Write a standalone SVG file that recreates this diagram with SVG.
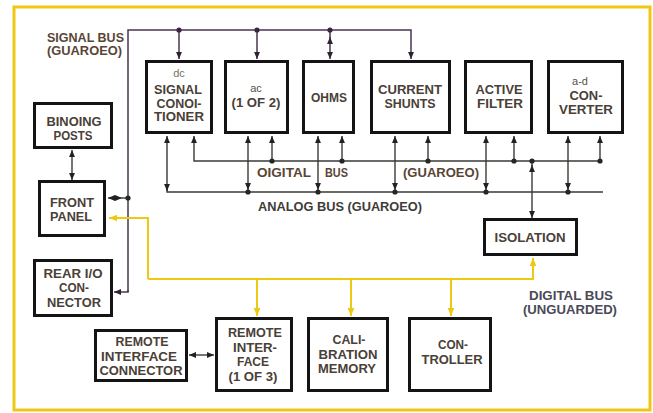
<svg xmlns="http://www.w3.org/2000/svg" width="653" height="413" viewBox="0 0 653 413">
<style>
.bx{fill:#fff;stroke:#141414;stroke-width:3}
.t{font-family:"Liberation Sans",Arial,sans-serif;font-weight:bold;font-size:12px;fill:#4a4037;text-anchor:middle}
.s{font-family:"Liberation Sans",Arial,sans-serif;font-size:11px;fill:#77725e;text-anchor:middle}
.lb{font-family:"Liberation Sans",Arial,sans-serif;font-weight:bold;font-size:12px;fill:#5a4535}
.sig{fill:none;stroke:#4a3450;stroke-width:1.5}
.dk{fill:none;stroke:#3a3a34;stroke-width:1.4}
.yl{fill:none;stroke:#efc814;stroke-width:2}
.dotp{fill:#3a2440}
.dotd{fill:#262622}
</style>
<defs>
<marker id="ad" viewBox="0 0 10 10" refX="10" refY="5" markerWidth="7" markerHeight="7" markerUnits="userSpaceOnUse" orient="auto-start-reverse"><path d="M0,0.8 L10,5 L0,9.2 z" fill="#222"/></marker>
<marker id="ap" viewBox="0 0 10 10" refX="10" refY="5" markerWidth="7" markerHeight="7" markerUnits="userSpaceOnUse" orient="auto-start-reverse"><path d="M0,0.8 L10,5 L0,9.2 z" fill="#2e2230"/></marker>
<marker id="ay" viewBox="0 0 10 10" refX="10" refY="5" markerWidth="8" markerHeight="8" markerUnits="userSpaceOnUse" orient="auto-start-reverse"><path d="M0,0.8 L10,5 L0,9.2 z" fill="#efc814"/></marker>
</defs>
<rect x="0" y="0" width="653" height="413" fill="#fff"/>
<rect x="14" y="7" width="636" height="403" fill="#fff" stroke="#f0c814" stroke-width="3"/>

<g id="connectors">
  <!-- signal bus -->
  <path class="sig" d="M128,292 V30 H411 V59" marker-end="url(#ap)"/>
  <path class="sig" d="M128,290 V292 H114" marker-end="url(#ap)"/>
  <path class="sig" d="M179,30 V59" marker-end="url(#ap)"/>
  <path class="sig" d="M257,30 V59" marker-end="url(#ap)"/>
  <path class="sig" d="M330,30 V38"/>
  <path class="sig" d="M330,37 V59" marker-start="url(#ap)" marker-end="url(#ap)"/>
  <circle class="dotp" cx="179" cy="30" r="2.6"/>
  <circle class="dotp" cx="257" cy="30" r="2.6"/>
  <circle class="dotp" cx="330" cy="30" r="2.6"/>
  <!-- front panel to signal bus -->
  <path class="dk" d="M122,198 H128"/>
  <path class="dk" d="M108,198 H122" marker-start="url(#ad)" marker-end="url(#ad)"/>
  <circle class="dotd" cx="128" cy="198" r="2.6"/>
  <!-- binding posts to front panel -->
  <path class="dk" d="M72,150 V180" marker-start="url(#ad)" marker-end="url(#ad)"/>
  <!-- digital bus (guarded) -->
  <path class="dk" d="M194,136 V161 H602" marker-start="url(#ad)"/>
  <!-- analog bus (guarded) -->
  <path class="dk" d="M167,136 V192 H603" marker-start="url(#ad)"/>
  <path class="dk" d="M167,186 V191" marker-end="url(#ad)"/>
  <!-- ac -->
  <path class="dk" d="M248,136 V190" marker-start="url(#ad)" marker-end="url(#ad)"/>
  <path class="dk" d="M272,136 V161" marker-start="url(#ad)"/>
  <!-- ohms -->
  <path class="dk" d="M318,136 V190" marker-start="url(#ad)" marker-end="url(#ad)"/>
  <path class="dk" d="M342,136 V161" marker-start="url(#ad)"/>
  <!-- current shunts -->
  <path class="dk" d="M395,136 V190" marker-start="url(#ad)" marker-end="url(#ad)"/>
  <path class="dk" d="M428,136 V161" marker-start="url(#ad)"/>
  <!-- active filter -->
  <path class="dk" d="M486,136 V190" marker-start="url(#ad)" marker-end="url(#ad)"/>
  <path class="dk" d="M514,136 V161" marker-start="url(#ad)"/>
  <!-- a-d converter -->
  <path class="dk" d="M568,136 V190" marker-start="url(#ad)" marker-end="url(#ad)"/>
  <path class="dk" d="M600,136 V161" marker-start="url(#ad)"/>
  <!-- isolation -->
  <path class="dk" d="M532,161 V166"/>
  <path class="dk" d="M532,165 V218" marker-start="url(#ad)" marker-end="url(#ad)"/>
  <g class="dotd">
    <circle cx="248" cy="192" r="2.6"/><circle cx="318" cy="192" r="2.6"/><circle cx="395" cy="192" r="2.6"/>
    <circle cx="486" cy="192" r="2.6"/><circle cx="568" cy="192" r="2.6"/>
    <circle cx="272" cy="161" r="2.6"/><circle cx="342" cy="161" r="2.6"/><circle cx="428" cy="161" r="2.6"/>
    <circle cx="514" cy="161" r="2.6"/><circle cx="600" cy="161" r="2.6"/><circle cx="532" cy="161" r="2.6"/>
  </g>
  <!-- unguarded digital bus (yellow) -->
  <path class="yl" d="M148,279 V218 H109" marker-end="url(#ay)"/>
  <path class="yl" d="M148,279 H533 V258" marker-end="url(#ay)"/>
  <path class="yl" d="M257,279 V316" marker-end="url(#ay)"/>
  <path class="yl" d="M351,279 V316" marker-end="url(#ay)"/>
  <path class="yl" d="M451,279 V316" marker-end="url(#ay)"/>
  <!-- remote interface connector link -->
  <path class="dk" d="M189,355 H214" marker-start="url(#ad)" marker-end="url(#ad)"/>
</g>

<g id="labels">
  <text class="lb" x="47" y="42" textLength="77" lengthAdjust="spacingAndGlyphs">SIGNAL BUS</text>
  <text class="lb" x="47" y="55" textLength="75" lengthAdjust="spacingAndGlyphs">(GUAROEO)</text>
  <text class="lb" x="257" y="177" textLength="54" lengthAdjust="spacingAndGlyphs">OIGITAL</text>
  <text class="lb" x="325" y="177" textLength="23" lengthAdjust="spacingAndGlyphs">BUS</text>
  <text class="lb" x="403" y="177" textLength="76" lengthAdjust="spacingAndGlyphs">(GUAROEO)</text>
  <text class="lb" x="258" y="211" textLength="164" lengthAdjust="spacingAndGlyphs" style="fill:#3e3c38">ANALOG BUS (GUAROEO)</text>
  <text class="lb" x="529" y="300" textLength="84" lengthAdjust="spacingAndGlyphs" style="fill:#4a4a58">DIGITAL BUS</text>
  <text class="lb" x="523" y="314" textLength="94" lengthAdjust="spacingAndGlyphs" style="fill:#4a4a58">(UNGUARDED)</text>
</g>

<g id="dc-signal-conditioner">
  <rect class="bx" x="146.5" y="61.5" width="65" height="71"/>
  <text class="s" x="179" y="77">dc</text>
  <text class="t" x="178" y="94" textLength="48" lengthAdjust="spacingAndGlyphs">SIGNAL</text>
  <text class="t" x="179" y="107.5" textLength="45" lengthAdjust="spacingAndGlyphs">CONOI-</text>
  <text class="t" x="179" y="121" textLength="50" lengthAdjust="spacingAndGlyphs">TIONER</text>
</g>
<g id="ac">
  <rect class="bx" x="225.5" y="61.5" width="62" height="71"/>
  <text class="s" x="256" y="92" style="fill:#5a5048">ac</text>
  <text class="t" x="256" y="107" textLength="49" lengthAdjust="spacingAndGlyphs">(1 OF 2)</text>
</g>
<g id="ohms">
  <rect class="bx" x="303.5" y="61.5" width="50" height="71"/>
  <text class="t" x="329" y="102" textLength="36" lengthAdjust="spacingAndGlyphs">OHMS</text>
</g>
<g id="current-shunts">
  <rect class="bx" x="371.5" y="61.5" width="78" height="71"/>
  <text class="t" x="410" y="94" textLength="64" lengthAdjust="spacingAndGlyphs">CURRENT</text>
  <text class="t" x="410" y="107.5" textLength="51" lengthAdjust="spacingAndGlyphs">SHUNTS</text>
</g>
<g id="active-filter">
  <rect class="bx" x="465.5" y="61.5" width="66" height="71"/>
  <text class="t" x="499" y="94" textLength="47" lengthAdjust="spacingAndGlyphs">ACTIVE</text>
  <text class="t" x="500" y="107.5" textLength="46" lengthAdjust="spacingAndGlyphs">FILTER</text>
</g>
<g id="ad-converter">
  <rect class="bx" x="548.5" y="61.5" width="74" height="71"/>
  <text class="s" x="580" y="85" style="fill:#5a5048">a-d</text>
  <text class="t" x="586" y="100" textLength="33" lengthAdjust="spacingAndGlyphs">CON-</text>
  <text class="t" x="586" y="114" textLength="54" lengthAdjust="spacingAndGlyphs">VERTER</text>
</g>
<g id="binding-posts">
  <rect class="bx" x="34.5" y="103.5" width="77" height="44"/>
  <text class="t" x="74" y="126" textLength="55" lengthAdjust="spacingAndGlyphs">BINOING</text>
  <text class="t" x="73" y="140" textLength="39" lengthAdjust="spacingAndGlyphs">POSTS</text>
</g>
<g id="front-panel">
  <rect class="bx" x="39.5" y="181.5" width="65" height="54"/>
  <text class="t" x="72" y="207" textLength="44" lengthAdjust="spacingAndGlyphs">FRONT</text>
  <text class="t" x="71" y="221" textLength="42" lengthAdjust="spacingAndGlyphs">PANEL</text>
</g>
<g id="rear-io-connector">
  <rect class="bx" x="34.5" y="260.5" width="77" height="55"/>
  <text class="t" x="73" y="277.5" textLength="59" lengthAdjust="spacingAndGlyphs">REAR I/O</text>
  <text class="t" x="74" y="292" textLength="30" lengthAdjust="spacingAndGlyphs">CON-</text>
  <text class="t" x="74" y="306.5" textLength="54" lengthAdjust="spacingAndGlyphs">NECTOR</text>
</g>
<g id="isolation">
  <rect class="bx" x="484.5" y="219.5" width="92" height="35"/>
  <text class="t" x="530" y="242" textLength="71" lengthAdjust="spacingAndGlyphs">ISOLATION</text>
</g>
<g id="remote-interface-connector">
  <rect class="bx" x="95.5" y="330.5" width="91" height="50"/>
  <text class="t" x="142" y="346" textLength="53" lengthAdjust="spacingAndGlyphs">REMOTE</text>
  <text class="t" x="139" y="360.5" textLength="76" lengthAdjust="spacingAndGlyphs">INTERFACE</text>
  <text class="t" x="141" y="375" textLength="83" lengthAdjust="spacingAndGlyphs">CONNECTOR</text>
</g>
<g id="remote-interface">
  <rect class="bx" x="216.5" y="318.5" width="75" height="72"/>
  <text class="t" x="255" y="337" textLength="54" lengthAdjust="spacingAndGlyphs">REMOTE</text>
  <text class="t" x="255" y="351.5" textLength="44" lengthAdjust="spacingAndGlyphs">INTER-</text>
  <text class="t" x="253" y="366" textLength="32" lengthAdjust="spacingAndGlyphs">FACE</text>
  <text class="t" x="253" y="380.5" textLength="49" lengthAdjust="spacingAndGlyphs">(1 OF 3)</text>
</g>
<g id="calibration-memory">
  <rect class="bx" x="308.5" y="318.5" width="79" height="72"/>
  <text class="t" x="349" y="344" textLength="33" lengthAdjust="spacingAndGlyphs">CALI-</text>
  <text class="t" x="348" y="358.5" textLength="59" lengthAdjust="spacingAndGlyphs">BRATION</text>
  <text class="t" x="347" y="373" textLength="58" lengthAdjust="spacingAndGlyphs">MEMORY</text>
</g>
<g id="controller">
  <rect class="bx" x="409.5" y="318.5" width="81" height="72"/>
  <text class="t" x="453" y="349" textLength="30" lengthAdjust="spacingAndGlyphs">CON-</text>
  <text class="t" x="452" y="364" textLength="61" lengthAdjust="spacingAndGlyphs">TROLLER</text>
</g>
</svg>
